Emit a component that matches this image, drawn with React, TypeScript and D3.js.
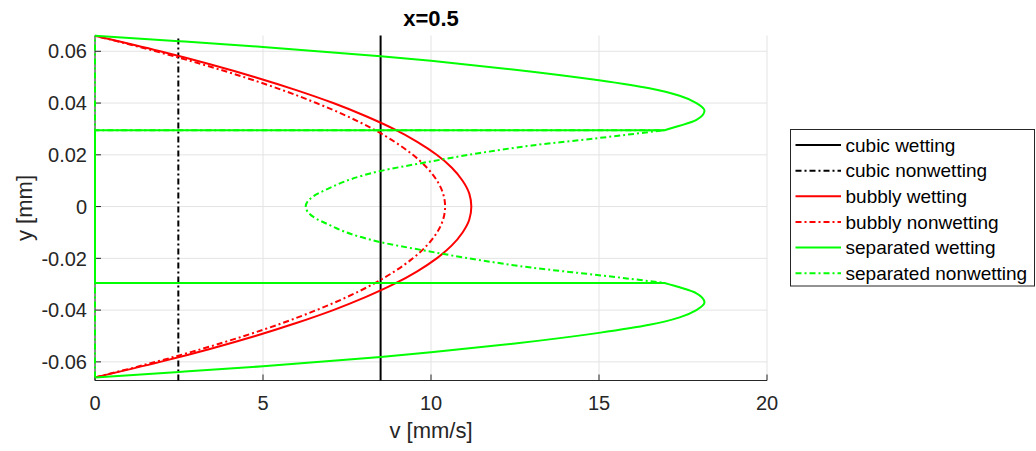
import React from "react";
import * as d3 from "d3";

// ---------- data ----------
const xTicks = [0, 5, 10, 15, 20];
const yTicks = [-0.06, -0.04, -0.02, 0, 0.02, 0.04, 0.06];
const yTickLabels = ["-0.06", "-0.04", "-0.02", "0", "0.02", "0.04", "0.06"];
const xDomain = [0, 20];
const yDomain = [-0.0672, 0.0661];

// cubic profiles (vertical lines spanning the axes)
const cubicY = [-0.0672, 0.0661];
const cubicWettingV = [8.5, 8.5];
const cubicNonwettingV = [2.48, 2.48];

// bubbly profiles
const bubblyY = [-0.066, -0.06, -0.055, -0.05, -0.045, -0.04, -0.035, -0.03, -0.025, -0.02, -0.015, -0.01, -0.005, 0,
  0.005, 0.01, 0.015, 0.02, 0.025, 0.03, 0.035, 0.04, 0.045, 0.05, 0.055, 0.06, 0.066];
const bubblyWettingV = [0, 1.94, 3.42, 4.77, 5.99, 7.09, 8.05, 8.89, 9.59, 10.17, 10.62, 10.94, 11.14, 11.2,
  11.14, 10.94, 10.62, 10.17, 9.59, 8.89, 8.05, 7.09, 5.99, 4.77, 3.42, 1.94, 0];
const bubblyNonwettingV = [0, 1.81, 3.18, 4.44, 5.58, 6.59, 7.49, 8.27, 8.92, 9.46, 9.88, 10.18, 10.36, 10.42,
  10.36, 10.18, 9.88, 9.46, 8.92, 8.27, 7.49, 6.59, 5.58, 4.44, 3.18, 1.81, 0];

// separated: wetting film near the walls
const sepBottomFilmY = [-0.066, -0.0639, -0.0617, -0.0581, -0.0563, -0.0529, -0.0488, -0.0457, -0.0428, -0.04, -0.037, -0.0335, -0.0312, -0.0295];
const sepBottomFilmV = [0, 2.5, 5, 8.5, 10, 12.5, 15, 16.5, 17.4, 17.9, 18.14, 17.9, 17.4, 16.95];
const sepTopFilmY = [0.0295, 0.0312, 0.0335, 0.037, 0.04, 0.0428, 0.0457, 0.0488, 0.0529, 0.0563, 0.0581, 0.0617, 0.0639, 0.066];
const sepTopFilmV = [16.95, 17.4, 17.9, 18.14, 17.9, 17.4, 16.5, 15, 12.5, 10, 8.5, 5, 2.5, 0];
// separated: nonwetting core
const sepCoreY = [-0.0295, -0.0265, -0.0236, -0.0207, -0.0169, -0.0137, -0.0105, -0.0072, -0.004, 0,
  0.004, 0.0072, 0.0105, 0.0137, 0.0169, 0.0207, 0.0236, 0.0265, 0.0295];
const sepCoreV = [16.95, 15, 13, 11.46, 9.77, 8.48, 7.6, 6.99, 6.5, 6.27,
  6.5, 6.99, 7.6, 8.48, 9.77, 11.46, 13, 15, 16.95];
const interfaceY = [-0.0295, 0.0295];
const wallY = [-0.066, 0.066];
const interfaceV = 16.95;

const legendLabels = ["cubic wetting", "cubic nonwetting", "bubbly wetting", "bubbly nonwetting", "separated wetting", "separated nonwetting"];
const legendColors = ["#000000", "#000000", "#ff0000", "#ff0000", "#00ff00", "#00ff00"];
const legendDashed = [false, true, false, true, false, true];

// ---------- layout ----------
const W = 1036, H = 451;
const plot = { left: 95, right: 767, top: 35.5, bottom: 380.5 };
const FONT = "'Liberation Sans', Arial, Helvetica, sans-serif";
const DASH = "6,3,2,3";
const AX = "#262626";

type P = [number, number];
const zip = (v: number[], y: number[]): P[] => v.map((d, i) => [d, y[i]]);

export default function App() {
  const x = d3.scaleLinear().domain(xDomain).range([plot.left, plot.right]);
  const y = d3.scaleLinear().domain(yDomain).range([plot.bottom, plot.top]);

  const lin = d3.line<P>().x(d => x(d[0])).y(d => y(d[1])).curve(d3.curveLinear);
  const smooth = d3.line<P>().x(d => x(d[0])).y(d => y(d[1])).curve(d3.curveMonotoneY);

  const join = (pieces: string[]) => pieces.map((s, i) => (i === 0 ? s : "L" + s.slice(1))).join("");

  const cubicW = lin(zip(cubicWettingV, cubicY)) as string;
  const cubicN = lin(zip(cubicNonwettingV, cubicY)) as string;
  const bubW = smooth(zip(bubblyWettingV, bubblyY)) as string;
  const bubN = smooth(zip(bubblyNonwettingV, bubblyY)) as string;

  const sepW = join([
    smooth(zip(sepBottomFilmV, sepBottomFilmY)) as string,
    lin([[interfaceV, interfaceY[0]], [0, interfaceY[0]]]) as string,
    lin([[0, interfaceY[0]], [0, interfaceY[1]]]) as string,
    lin([[0, interfaceY[1]], [interfaceV, interfaceY[1]]]) as string,
    smooth(zip(sepTopFilmV, sepTopFilmY)) as string,
  ]);
  const sepN = join([
    lin([[0, wallY[0]], [0, interfaceY[0]]]) as string,
    lin([[0, interfaceY[0]], [interfaceV, interfaceY[0]]]) as string,
    smooth(zip(sepCoreV, sepCoreY)) as string,
    lin([[interfaceV, interfaceY[1]], [0, interfaceY[1]]]) as string,
    lin([[0, interfaceY[1]], [0, wallY[1]]]) as string,
  ]);

  const series = [
    { d: cubicW, c: legendColors[0], dash: legendDashed[0] },
    { d: cubicN, c: legendColors[1], dash: legendDashed[1] },
    { d: bubW, c: legendColors[2], dash: legendDashed[2] },
    { d: bubN, c: legendColors[3], dash: legendDashed[3] },
    { d: sepW, c: legendColors[4], dash: legendDashed[4] },
    { d: sepN, c: legendColors[5], dash: legendDashed[5] },
  ];

  const lg = { x: 790.5, y: 129.5, w: 244, h: 156.5, row0: 145, step: 25.65 };

  return (
    <svg width={W} height={H} style={{ position: "absolute", left: 0, top: 0, background: "#fff" }} fontFamily={FONT}>
      {/* grid */}
      {xTicks.map(t => (
        <line key={"gx" + t} x1={x(t)} x2={x(t)} y1={plot.top} y2={plot.bottom} stroke="#e3e3e3" strokeWidth={1} />
      ))}
      {yTicks.map(t => (
        <line key={"gy" + t} x1={plot.left} x2={plot.right} y1={y(t)} y2={y(t)} stroke="#e3e3e3" strokeWidth={1} />
      ))}
      {/* axes */}
      <line x1={plot.left} x2={plot.right} y1={plot.bottom} y2={plot.bottom} stroke={AX} strokeWidth={1} />
      <line x1={plot.left} x2={plot.left} y1={plot.top} y2={plot.bottom} stroke={AX} strokeWidth={1} />
      {xTicks.map(t => (
        <g key={"tx" + t}>
          <line x1={x(t)} x2={x(t)} y1={plot.bottom} y2={plot.bottom - 6} stroke={AX} strokeWidth={1} />
          <text x={x(t)} y={410} textAnchor="middle" fontSize={20} fill={AX}>{t}</text>
        </g>
      ))}
      {yTicks.map((t, i) => (
        <g key={"ty" + t}>
          <line x1={plot.left} x2={plot.left + 6} y1={y(t)} y2={y(t)} stroke={AX} strokeWidth={1} />
          <text x={87} y={y(t)} dy="0.36em" textAnchor="end" fontSize={20} fill={AX}>{yTickLabels[i]}</text>
        </g>
      ))}
      {/* series */}
      {series.map((s, i) => (
        <path key={"s" + i} d={s.d} fill="none" stroke={s.c} strokeWidth={2}
          strokeDasharray={s.dash ? DASH : undefined} strokeLinejoin="round" />
      ))}
      {/* labels */}
      <text x={(plot.left + plot.right) / 2} y={438} textAnchor="middle" fontSize={22} fill={AX}>v [mm/s]</text>
      <text transform={`translate(32,${(plot.top + plot.bottom) / 2}) rotate(-90)`} textAnchor="middle" fontSize={22} fill={AX}>y [mm]</text>
      <text x={(plot.left + plot.right) / 2} y={26} textAnchor="middle" fontSize={22} fontWeight="bold" fill="#000">x=0.5</text>
      {/* legend */}
      <rect x={lg.x} y={lg.y} width={lg.w} height={lg.h} fill="#fff" stroke={AX} strokeWidth={1} />
      {legendLabels.map((l, i) => {
        const cy = lg.row0 + i * lg.step;
        return (
          <g key={"lg" + i}>
            <line x1={795.5} x2={841} y1={cy} y2={cy} stroke={legendColors[i]} strokeWidth={2}
              strokeDasharray={legendDashed[i] ? DASH : undefined} />
            <text x={845.5} y={cy} dy="0.36em" fontSize={19} fill="#000">{l}</text>
          </g>
        );
      })}
    </svg>
  );
}
